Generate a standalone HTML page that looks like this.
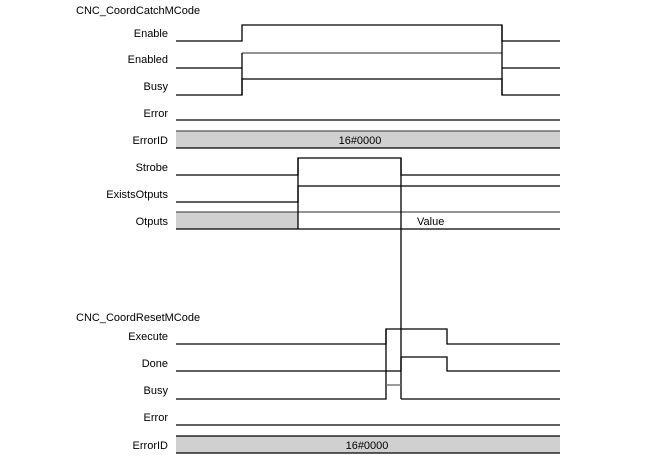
<!DOCTYPE html>
<html><head><meta charset="utf-8"><style>
html,body{margin:0;padding:0;background:#fff;}
svg{display:block;}
text{font-family:"Liberation Sans",Arial,sans-serif;font-size:11px;fill:#000;}
</style></head><body>
<svg width="661" height="463" viewBox="0 0 661 463" xmlns="http://www.w3.org/2000/svg">
<rect x="176" y="131" width="384" height="17" fill="#d0d0d0"/>
<rect x="176" y="212" width="122" height="17" fill="#d0d0d0"/>
<rect x="176" y="436" width="384" height="17" fill="#d0d0d0"/>
<g fill="none" stroke="#000" stroke-width="1.3">
<!-- top section -->
<polyline points="176,41 242,41 242,25 502,25 502,41 560,41"/>
<polyline points="176,68 242,68"/><line x1="242" y1="53" x2="502" y2="53" stroke="#555"/><polyline points="502,68 560,68"/>
<polyline points="176,95 242,95 242,79 502,79 502,95 560,95"/>
<line x1="242" y1="53" x2="242" y2="95"/>
<line x1="502" y1="25" x2="502" y2="95"/>
<line x1="176" y1="120" x2="560" y2="120"/>
<line x1="176" y1="131" x2="560" y2="131" stroke="#555"/>
<line x1="176" y1="148" x2="560" y2="148"/>
<polyline points="176,175 298,175 298,158 401,158 401,175 560,175"/>
<polyline points="176,202 298,202 298,186 560,186"/>
<line x1="176" y1="212" x2="560" y2="212" stroke="#555"/>
<line x1="176" y1="229" x2="560" y2="229"/>
<line x1="298" y1="158" x2="298" y2="229"/>
<line x1="401" y1="158" x2="401" y2="399"/>
<!-- bottom section -->
<polyline points="176,344 386,344 386,329 447,329 447,344 560,344"/>
<polyline points="176,371 401,371"/>
<polyline points="401,357 447,357 447,371 560,371" />
<line x1="401" y1="357" x2="401" y2="371"/>
<polyline points="176,399 386,399 386,329"/>
<line x1="386" y1="385" x2="401" y2="385" stroke="#666"/>
<polyline points="401,399 560,399"/>
<line x1="176" y1="425" x2="560" y2="425"/>
<line x1="176" y1="436" x2="560" y2="436"/>
<line x1="176" y1="453" x2="560" y2="453"/>
</g>
<text x="76" y="14">CNC_CoordCatchMCode</text>
<g text-anchor="end">
<text x="168" y="37">Enable</text>
<text x="168" y="63">Enabled</text>
<text x="168" y="90">Busy</text>
<text x="168" y="117">Error</text>
<text x="168" y="144">ErrorID</text>
<text x="168" y="171">Strobe</text>
<text x="168" y="198">ExistsOtputs</text>
<text x="168" y="225">Otputs</text>
<text x="168" y="340">Execute</text>
<text x="168" y="367">Done</text>
<text x="168" y="394">Busy</text>
<text x="168" y="421">Error</text>
<text x="168" y="449">ErrorID</text>
</g>
<text x="76" y="321">CNC_CoordResetMCode</text>
<text x="360" y="144" text-anchor="middle">16#0000</text>
<text x="417" y="225">Value</text>
<text x="367" y="449" text-anchor="middle">16#0000</text>
</svg>
</body></html>
